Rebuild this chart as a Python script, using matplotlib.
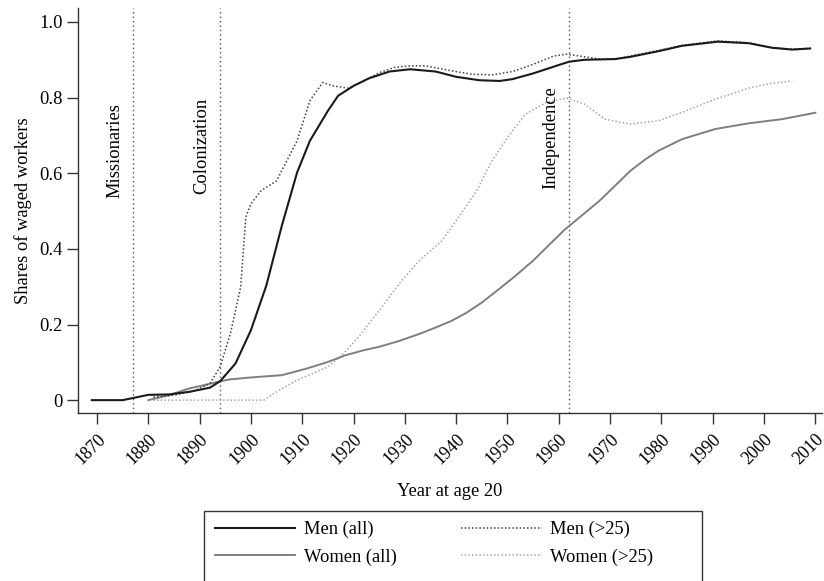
import matplotlib
matplotlib.use("Agg")
import matplotlib.pyplot as plt
from matplotlib.patches import Rectangle
from matplotlib.lines import Line2D

plt.rcParams['font.family'] = ['Liberation Serif', 'DejaVu Serif']

# shares of waged workers by year at age 20
men_all_years = [1869, 1875, 1880, 1884, 1888, 1892, 1894, 1897, 1900, 1903, 1906, 1909,
                 1911.5, 1915, 1917, 1920, 1923, 1927, 1931, 1936, 1940, 1944.5, 1948.5,
                 1951, 1955, 1959.5, 1962, 1965, 1971, 1974, 1979.5, 1984, 1991, 1997,
                 2001.5, 2005.5, 2009]
men_all = [0, 0, 0.014, 0.015, 0.022, 0.033, 0.05, 0.097, 0.185, 0.303, 0.46, 0.602,
           0.686, 0.765, 0.805, 0.831, 0.851, 0.869, 0.875, 0.869, 0.855, 0.846, 0.844,
           0.849, 0.864, 0.884, 0.895, 0.9, 0.902, 0.908, 0.923, 0.937, 0.948, 0.944,
           0.932, 0.927, 0.930]

men_25_years = [1881, 1885, 1889, 1892, 1894, 1896, 1898, 1899, 1900, 1902, 1905, 1907,
                1909, 1911.5, 1914, 1916, 1919, 1922, 1925, 1928, 1931, 1934, 1939, 1943,
                1947, 1951, 1955, 1959, 1961.5, 1964, 1968, 1971, 1974, 1979.5, 1984,
                1991, 1997, 2001.5, 2005.5, 2008.5]
men_25 = [0.008, 0.013, 0.025, 0.044, 0.088, 0.176, 0.299, 0.484, 0.519, 0.554, 0.580,
          0.633, 0.686, 0.792, 0.840, 0.831, 0.825, 0.844, 0.866, 0.880, 0.884, 0.884,
          0.871, 0.862, 0.860, 0.869, 0.888, 0.910, 0.915, 0.910, 0.902, 0.902, 0.910,
          0.925, 0.938, 0.950, 0.945, 0.932, 0.928, 0.930]

women_all_years = [1880, 1884, 1888, 1891, 1894, 1896, 1900, 1906, 1911, 1915, 1918.5,
                   1922, 1925, 1929, 1933, 1936, 1939, 1942, 1945, 1948, 1951.5, 1955,
                   1961, 1968, 1974, 1977, 1979.5, 1984, 1990.5, 1997, 2003.5, 2010]
women_all = [0, 0.013, 0.031, 0.040, 0.050, 0.055, 0.060, 0.066, 0.084, 0.101, 0.119,
             0.132, 0.141, 0.157, 0.176, 0.192, 0.209, 0.231, 0.258, 0.29, 0.328, 0.369,
             0.449, 0.528, 0.607, 0.638, 0.660, 0.690, 0.717, 0.732, 0.743, 0.760]

women_25_years = [1881, 1902.5, 1905.5, 1909, 1912, 1915, 1918, 1921, 1925, 1929, 1933,
                  1937, 1940.5, 1944, 1947, 1950.5, 1953.5, 1957.5, 1961.5, 1965, 1969,
                  1974, 1979.5, 1984, 1990.5, 1997, 2001.5, 2005.5]
women_25 = [0, 0, 0.026, 0.053, 0.070, 0.088, 0.123, 0.167, 0.237, 0.31, 0.372, 0.418,
            0.484, 0.554, 0.633, 0.704, 0.756, 0.787, 0.799, 0.783, 0.743, 0.730, 0.739,
            0.761, 0.796, 0.825, 0.838, 0.844]

events = ["Missionaries", "Colonization", "Independence"]
event_years = [1877, 1894, 1962]
event_label_y = [0.661, 0.671, 0.693]

xticks = list(range(1870, 2011, 10))
yticks = [0, 0.2, 0.4, 0.6, 0.8, 1.0]
ytick_labels = ["0", "0.2", "0.4", "0.6", "0.8", "1.0"]

fs = 13.3
W, H = 824, 581
fig = plt.figure(figsize=(W / 100, H / 100), dpi=100)
ax = fig.add_axes([78 / W, 1 - 413 / H, (822 - 78) / W, (413 - 8) / H])

for yr, name, ly in zip(event_years, events, event_label_y):
    ax.axvline(yr, color="#555555", lw=1.0, ls=(0, (1, 2.2)), zorder=1)
    ax.text(yr - 3.6, ly, name, rotation=90, ha="center", va="center", fontsize=fs)

ax.plot(women_25_years, women_25, color="#a6a6a6", lw=1.1, ls=(0, (1, 1.4)), zorder=2)
ax.plot(women_all_years, women_all, color="#7f7f7f", lw=1.4, zorder=3)
ax.plot(men_25_years, men_25, color="#404040", lw=1.1, ls=(0, (1, 1.4)), zorder=4)
ax.plot(men_all_years, men_all, color="#1a1a1a", lw=1.5, zorder=5)

ax.set_xlim(1866.3, 2011.3)
ax.set_ylim(-0.034, 1.037)
ax.set_xticks(xticks)
ax.set_xticklabels([str(x) for x in xticks], rotation=45, ha="right",
                   rotation_mode="anchor", fontsize=12.8)
ax.set_yticks(yticks)
ax.set_yticklabels(ytick_labels, fontsize=fs)
ax.tick_params(direction="out", length=8, width=1, color="#333333", pad=3)
ax.tick_params(axis="x", pad=5)
for s in ["top", "right"]:
    ax.spines[s].set_visible(False)
for s in ["left", "bottom"]:
    ax.spines[s].set_color("#333333")
    ax.spines[s].set_linewidth(1.0)

ax.set_ylabel("Shares of waged workers", fontsize=fs, labelpad=5)
fig.text(450 / W, 1 - 492 / H, "Year at age 20", ha="center", va="center", fontsize=fs)

# legend box runs off the bottom edge
fig.patches.append(Rectangle((204 / W, 1 - 584 / H), (702 - 204) / W, (584 - 511) / H,
                             transform=fig.transFigure, fill=False,
                             edgecolor="#333333", lw=1.0))
handles = [
    Line2D([], [], color="#1a1a1a", lw=1.5),
    Line2D([], [], color="#7f7f7f", lw=1.4),
    Line2D([], [], color="#404040", lw=1.1, ls=(0, (1, 1.4))),
    Line2D([], [], color="#a6a6a6", lw=1.1, ls=(0, (1, 1.4))),
]
labels = ["Men (all)", "Women (all)", "Men (>25)", "Women (>25)"]
fig.legend(handles, labels, ncol=2, loc="upper left",
           bbox_to_anchor=(215 / W, 1 - 521 / H), frameon=False, fontsize=fs,
           borderpad=0, borderaxespad=0, handlelength=4.35, handletextpad=0.45,
           columnspacing=3.5, labelspacing=0.55)

fig.savefig("out.png", dpi=100)
